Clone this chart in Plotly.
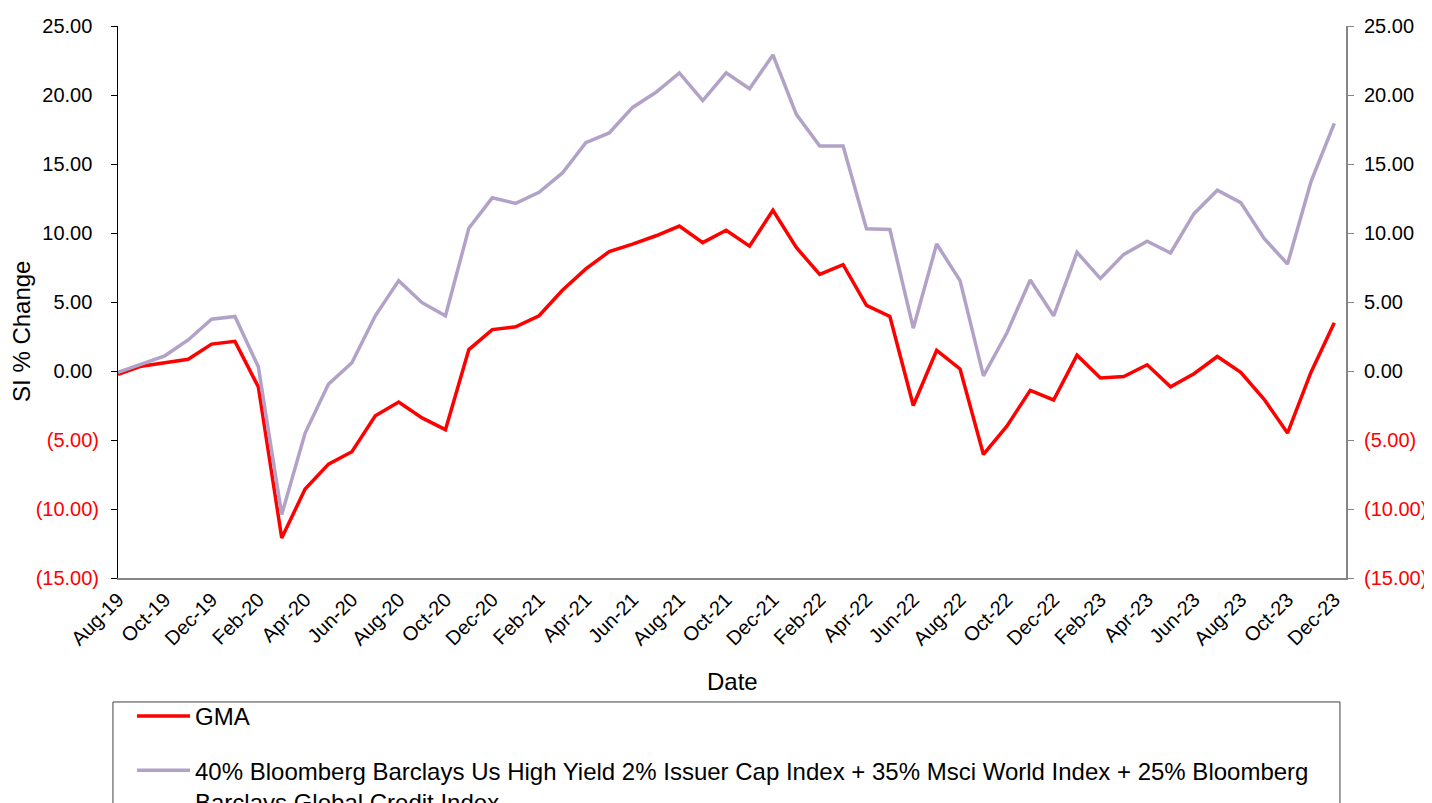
import plotly.graph_objects as go

months = [
    "Aug-19", "Sep-19", "Oct-19", "Nov-19", "Dec-19",
    "Jan-20", "Feb-20", "Mar-20", "Apr-20", "May-20", "Jun-20", "Jul-20", "Aug-20", "Sep-20", "Oct-20", "Nov-20", "Dec-20",
    "Jan-21", "Feb-21", "Mar-21", "Apr-21", "May-21", "Jun-21", "Jul-21", "Aug-21", "Sep-21", "Oct-21", "Nov-21", "Dec-21",
    "Jan-22", "Feb-22", "Mar-22", "Apr-22", "May-22", "Jun-22", "Jul-22", "Aug-22", "Sep-22", "Oct-22", "Nov-22", "Dec-22",
    "Jan-23", "Feb-23", "Mar-23", "Apr-23", "May-23", "Jun-23", "Jul-23", "Aug-23", "Sep-23", "Oct-23", "Nov-23", "Dec-23",
]

gma = [
    -0.25, 0.35, 0.6, 0.85, 1.95,
    2.15, -1.15, -12.1, -8.55, -6.75, -5.85, -3.25, -2.25, -3.4, -4.25, 1.55, 3.0,
    3.2, 4.0, 5.85, 7.4, 8.65, 9.2, 9.8, 10.5, 9.3, 10.2, 9.05, 11.65,
    8.95, 7.0, 7.7, 4.75, 3.95, -2.5, 1.5, 0.15, -6.05, -4.0, -1.4, -2.1,
    1.15, -0.5, -0.4, 0.45, -1.15, -0.2, 1.05, -0.1, -2.05, -4.5, -0.1, 3.5,
]

benchmark = [
    -0.1, 0.5, 1.1, 2.25, 3.75,
    3.95, 0.3, -10.4, -4.5, -0.95, 0.6, 4.0, 6.55, 4.95, 4.0, 10.35, 12.55,
    12.15, 12.95, 14.35, 16.55, 17.25, 19.1, 20.2, 21.6, 19.6, 21.6, 20.45, 22.9,
    18.6, 16.3, 16.3, 10.3, 10.25, 3.1, 9.2, 6.55, -0.35, 2.75, 6.6, 4.0,
    8.6, 6.7, 8.45, 9.4, 8.55, 11.4, 13.1, 12.2, 9.6, 7.75, 13.7, 17.95,
]

series_names = [
    "GMA",
    "40% Bloomberg Barclays Us High Yield 2% Issuer Cap Index + 35% Msci World Index + 25% Bloomberg<br>Barclays Global Credit Index",
]

y_tick_values = [-15, -10, -5, 0, 5, 10, 15, 20, 25]
PAD = '<span style="color:rgba(0,0,0,0)">)</span>'
y_tick_labels = [
    '<span style="color:#FF0000">(15.00)</span>',
    '<span style="color:#FF0000">(10.00)</span>',
    '<span style="color:#FF0000">(5.00)</span>',
    "0.00" + PAD, "5.00" + PAD, "10.00" + PAD, "15.00" + PAD, "20.00" + PAD, "25.00" + PAD,
]
x_tick_labels = months[::2]

FONT = "Arial, Liberation Sans, sans-serif"

fig = go.Figure()
fig.add_trace(go.Scatter(
    x=months, y=gma, name=series_names[0], mode="lines",
    line=dict(color="#FF0000", width=3.5), legendgroup="g1",
))
fig.add_trace(go.Scatter(
    x=months, y=benchmark, name=series_names[1], mode="lines",
    line=dict(color="#B3A2C7", width=3.5), legendgroup="g2", yaxis="y2",
))

yax_common = dict(
    range=[-15, 25], tickvals=y_tick_values, ticktext=y_tick_labels,
    showgrid=False, zeroline=False, showline=True, ticks="outside",
    ticklen=6, tickwidth=1, tickfont=dict(family=FONT, size=20, color="#000000"),
)

fig.update_layout(
    width=1432, height=803,
    paper_bgcolor="white", plot_bgcolor="white",
    margin=dict(l=110, r=94, t=18, b=233, autoexpand=False),
    font=dict(family=FONT, color="#000000"),
    xaxis=dict(
        type="category", range=[0, 52.5],
        tickvals=x_tick_labels, ticktext=x_tick_labels, tickangle=-45,
        tickfont=dict(family=FONT, size=20, color="#000000"),
        showgrid=False, zeroline=False, showline=True, linecolor="#868686",
        linewidth=2, ticks="",
    ),
    yaxis=dict(**yax_common, linecolor="#000000", linewidth=1, tickcolor="#000000",
               ticklabelstandoff=8),
    yaxis2=dict(**yax_common, overlaying="y", side="right",
                linecolor="#868686", linewidth=2, tickcolor="#868686",
                ticklabelstandoff=6),
    showlegend=True,
    legend=dict(
        x=0.0114, y=-0.21, xanchor="left", yanchor="top",
        orientation="v", valign="top", traceorder="grouped", tracegroupgap=20,
        itemwidth=53,
        font=dict(family=FONT, size=24, color="#000000"),
        bgcolor="rgba(0,0,0,0)", borderwidth=0,
    ),
    shapes=[dict(
        type="rect", xref="paper", yref="paper",
        x0=-0.0041, x1=0.9951, y0=-0.2246, y1=-0.45,
        line=dict(color="#404040", width=1), fillcolor="rgba(0,0,0,0)",
    )],
    annotations=[
        dict(text="SI % Change", xref="paper", yref="paper", x=-0.0782, y=0.4475,
             textangle=-90, showarrow=False, xanchor="center", yanchor="middle",
             font=dict(family=FONT, size=24, color="#000000")),
        dict(text="Date", xref="paper", yref="paper", x=0.5, y=-0.1866,
             showarrow=False, xanchor="center", yanchor="middle",
             font=dict(family=FONT, size=24, color="#000000")),
    ],
)

fig.write_html("out.html")
